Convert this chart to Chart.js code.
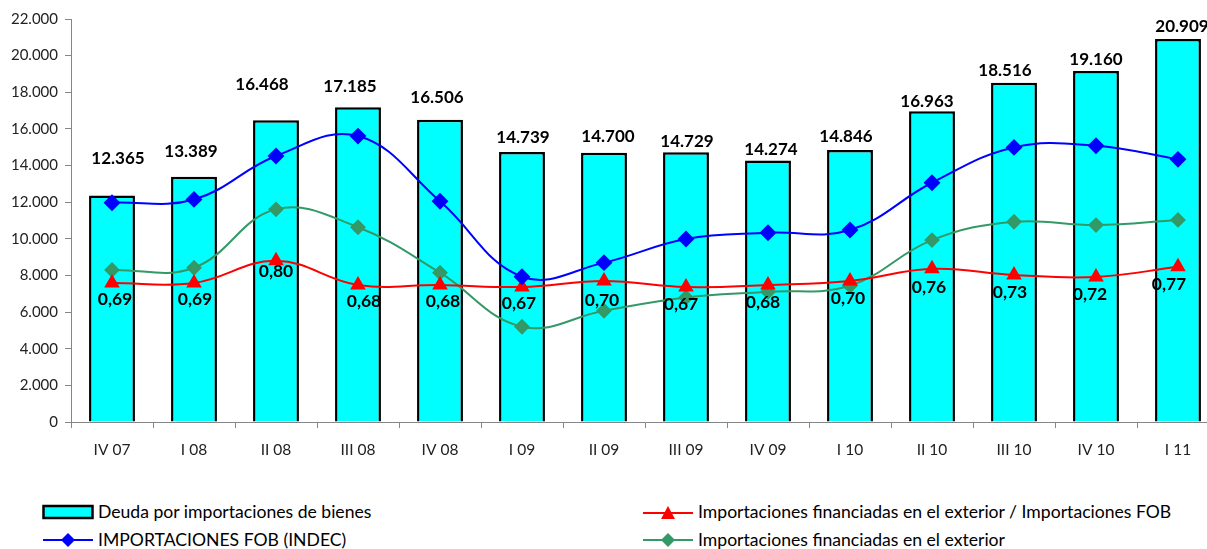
<!DOCTYPE html>
<html lang="es">
<head>
<meta charset="UTF-8">
<title>Deuda por importaciones de bienes</title>
<script src="https://cdn.jsdelivr.net/npm/chart.js"></script>
<style>
    body {
        margin: 0;
        background: #ffffff;
        overflow: hidden;
        font-family: Lato, "Open Sans", sans-serif;
    }
    #chartBox {
        position: absolute;
        left: 0;
        top: 0;
        width: 1240px;
        height: 470px;
    }
    .legend-item {
        position: absolute;
        font-size: 17.6px;
        line-height: 18px;
        color: #000;
        white-space: nowrap;
        display: flex;
        align-items: center;
    }
    .legend-item svg { margin-right: 4px; }
</style>
</head>
<body>
<div id="chartBox"><canvas id="deudaChart"></canvas></div>

<div class="legend-item" style="left:42px; top:503px;">
    <svg width="52" height="16"><rect x="1.5" y="2" width="49" height="12" fill="#00ffff" stroke="#000" stroke-width="2.5"/></svg>
    Deuda por importaciones de bienes
</div>
<div class="legend-item" style="left:42px; top:531px;">
    <svg width="52" height="16"><line x1="1" y1="8" x2="51" y2="8" stroke="#0000ff" stroke-width="2"/><polygon points="26,1 33,8 26,15 19,8" fill="#0000ff"/></svg>
    IMPORTACIONES FOB (INDEC)
</div>
<div class="legend-item" style="left:642px; top:503px;">
    <svg width="52" height="16"><line x1="1" y1="9" x2="51" y2="9" stroke="#ff0000" stroke-width="2"/><polygon points="26,2 33,15 19,15" fill="#ff0000"/></svg>
    Importaciones financiadas en el exterior / Importaciones FOB
</div>
<div class="legend-item" style="left:642px; top:531px;">
    <svg width="52" height="16"><line x1="1" y1="8" x2="51" y2="8" stroke="#339966" stroke-width="2"/><polygon points="26,1 33,8 26,15 19,8" fill="#339966"/></svg>
    Importaciones financiadas en el exterior
</div>

<script>
    // trimestres
    var quarters = ['IV 07', 'I 08', 'II 08', 'III 08', 'IV 08', 'I 09', 'II 09', 'III 09', 'IV 09', 'I 10', 'II 10', 'III 10', 'IV 10', 'I 11'];

    // millones de USD
    var deuda = [12365, 13389, 16468, 17185, 16506, 14739, 14700, 14729, 14274, 14846, 16963, 18516, 19160, 20909];
    var importFob = [11970, 12150, 14520, 15610, 12050, 7930, 8700, 9990, 10330, 10480, 13060, 14990, 15080, 14340];
    var importFinanciadas = [8300, 8420, 11610, 10630, 8150, 5200, 6075, 6800, 7110, 7440, 9930, 10930, 10750, 11030];

    // ratio financiadas / FOB
    var ratio = [0.69, 0.69, 0.80, 0.68, 0.68, 0.67, 0.70, 0.67, 0.68, 0.70, 0.76, 0.73, 0.72, 0.77];

    var yTicks = [0, 2000, 4000, 6000, 8000, 10000, 12000, 14000, 16000, 18000, 20000, 22000];

    // desplazamiento de las etiquetas (px)
    var barLabelDx = [6, -3, -14, -8, -3, 1, 4, 1, 3, -4, -5, -9, 0, 4];
    var barLabelDy = [37, 25, 36, 21, 22, 14, 16, 11, 11, 14, 10, 12, 12, 12];
    var ratioLabelDx = [3, 1, 0, 6, 3, -3, -2, -5, -5, -2, -3, -4, -6, -9];
    var ratioLabelDy = [16, 16, 11, 16, 16, 16, 19, 17, 17, 17, 18, 17, 17, 18];

    function miles(v) {
        return String(v).replace(/\B(?=(\d{3})+(?!\d))/g, '.');
    }

    var valueLabels = {
        id: 'valueLabels',
        afterDatasetsDraw: function(chart) {
            var ctx = chart.ctx;
            ctx.save();
            ctx.font = 'bold 17px Lato, "Open Sans", sans-serif';
            ctx.fillStyle = '#000';
            ctx.textAlign = 'center';
            ctx.textBaseline = 'middle';

            var bars = chart.getDatasetMeta(3).data;
            bars.forEach(function(el, i) {
                ctx.fillText(miles(deuda[i]), el.x + barLabelDx[i], el.y - barLabelDy[i]);
            });

            ctx.font = 'bold 17.5px Lato, "Open Sans", sans-serif';
            var pts = chart.getDatasetMeta(1).data;
            pts.forEach(function(el, i) {
                ctx.fillText(ratio[i].toFixed(2).replace('.', ','), el.x + ratioLabelDx[i], el.y + ratioLabelDy[i]);
            });
            ctx.restore();
        }
    };

    var axisGrey = '#868686';

    var ctx = document.getElementById('deudaChart').getContext('2d');
    var chart = new Chart(ctx, {
        type: 'bar',
        data: {
            labels: quarters,
            datasets: [
                {
                    type: 'line',
                    label: 'IMPORTACIONES FOB (INDEC)',
                    data: importFob,
                    borderColor: '#0000ff',
                    backgroundColor: '#0000ff',
                    borderWidth: 2,
                    pointStyle: 'rectRot',
                    pointRadius: 7,
                    tension: 0.4,
                    yAxisID: 'y'
                },
                {
                    type: 'line',
                    label: 'Importaciones financiadas en el exterior / Importaciones FOB',
                    data: ratio,
                    borderColor: '#ff0000',
                    backgroundColor: '#ff0000',
                    borderWidth: 2,
                    pointStyle: 'triangle',
                    pointRadius: 7,
                    tension: 0.4,
                    yAxisID: 'y2'
                },
                {
                    type: 'line',
                    label: 'Importaciones financiadas en el exterior',
                    data: importFinanciadas,
                    borderColor: '#339966',
                    backgroundColor: '#339966',
                    borderWidth: 2,
                    pointStyle: 'rectRot',
                    pointRadius: 6.5,
                    tension: 0.4,
                    yAxisID: 'y'
                },
                {
                    type: 'bar',
                    label: 'Deuda por importaciones de bienes',
                    data: deuda,
                    backgroundColor: '#00ffff',
                    borderColor: '#000000',
                    borderWidth: 2.5,
                    categoryPercentage: 1,
                    barPercentage: 0.56,
                    yAxisID: 'y'
                }
            ]
        },
        options: {
            responsive: true,
            maintainAspectRatio: false,
            animation: false,
            layout: { padding: { top: 19, right: 21, left: 0, bottom: 0 } },
            plugins: {
                legend: { display: false },
                tooltip: { enabled: false }
            },
            scales: {
                x: {
                    offset: true,
                    grid: {
                        display: true,
                        drawOnChartArea: false,
                        drawTicks: true,
                        tickLength: 6,
                        color: axisGrey,
                        offset: true
                    },
                    border: { display: true, color: axisGrey, width: 1 },
                    ticks: {
                        color: '#222',
                        padding: 13,
                        maxRotation: 0,
                        font: { family: 'Lato, "Open Sans", sans-serif', size: 15.5 }
                    },
                    afterFit: function(s) { s.height = 48; }
                },
                y: {
                    min: 0,
                    max: 22000,
                    afterBuildTicks: function(s) {
                        s.ticks = yTicks.map(function(v) { return { value: v }; });
                    },
                    grid: {
                        display: true,
                        drawOnChartArea: false,
                        drawTicks: true,
                        tickLength: 6,
                        color: axisGrey
                    },
                    border: { display: true, color: axisGrey, width: 1 },
                    ticks: {
                        color: '#222',
                        padding: 7,
                        font: { family: 'Lato, "Open Sans", sans-serif', size: 15 },
                        callback: function(v) { return miles(v); }
                    },
                    afterFit: function(s) { s.width = 71; }
                },
                y2: {
                    display: false,
                    min: 0,
                    max: 2
                }
            }
        },
        plugins: [valueLabels]
    });
</script>
</body>
</html>
